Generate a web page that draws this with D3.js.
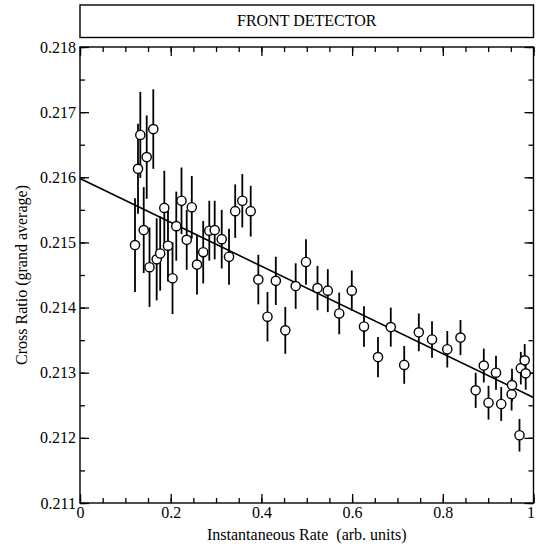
<html>
<head>
	<title>Front detector cross ratio</title>
	<script src="https://d3js.org/d3.v7.min.js"></script>
</head>
<body>
	<style> *{
		margin: 0px;
		padding: 0px;
	}
	text { font-family: "Liberation Serif", "Times New Roman", serif; fill: #000; }
	</style>

	<svg id="SVGcanvas" width="536" height="546" xmlns="http://www.w3.org/2000/svg"></svg>

	<script>
	// data
	var rateValues = [0.1213, 0.1279, 0.1330, 0.1405, 0.1471, 0.1533, 0.1616, 0.1691, 0.1768, 0.1859,
		0.1940, 0.2040, 0.2123, 0.2238, 0.2353, 0.2465, 0.2580, 0.2717, 0.2851, 0.2970,
		0.3125, 0.3286, 0.3422, 0.3579, 0.3764, 0.3932, 0.4134, 0.4318, 0.4527, 0.4756,
		0.4983, 0.5237, 0.5464, 0.5716, 0.5993, 0.6262, 0.6571, 0.6853, 0.7149, 0.7471,
		0.7762, 0.8099, 0.8390, 0.8725, 0.8904, 0.9008, 0.9173, 0.9288, 0.9517, 0.9526,
		0.9691, 0.9720, 0.9806, 0.9828];
	var ratioValues = [0.21496, 0.21613, 0.21665, 0.21519, 0.21631, 0.21462, 0.21674, 0.21474, 0.21483, 0.21553,
		0.21495, 0.21445, 0.21525, 0.21564, 0.21504, 0.21554, 0.21466, 0.21485, 0.21518, 0.21519,
		0.21505, 0.21478, 0.21548, 0.21564, 0.21548, 0.21443, 0.21386, 0.21441, 0.21365, 0.21433,
		0.21470, 0.21430, 0.21426, 0.21391, 0.21426, 0.21371, 0.21324, 0.21370, 0.21312, 0.21362,
		0.21351, 0.21336, 0.21354, 0.21273, 0.21311, 0.21254, 0.21300, 0.21252, 0.21267, 0.21281,
		0.21204, 0.21307, 0.21319, 0.21299];
	var ratioErrors = [0.00072, 0.00069, 0.00066, 0.00066, 0.00064, 0.00061, 0.00061, 0.00063, 0.00057, 0.00057,
		0.00055, 0.00055, 0.00053, 0.00051, 0.00046, 0.00048, 0.00046, 0.00048, 0.00046, 0.00045,
		0.00045, 0.00043, 0.00041, 0.00041, 0.00039, 0.00038, 0.00038, 0.00037, 0.00036, 0.00035,
		0.00035, 0.00034, 0.00033, 0.00032, 0.00031, 0.00031, 0.00031, 0.00030, 0.00029, 0.00029,
		0.00028, 0.00028, 0.00027, 0.00027, 0.00026, 0.00026, 0.00026, 0.00026, 0.00025, 0.00025,
		0.00025, 0.00025, 0.00025, 0.00025];
	// straight line fit, end points
	var fitRate = [0, 1];
	var fitRatio = [0.21598, 0.21262];

	var xTicks = [0, 0.2, 0.4, 0.6, 0.8, 1];
	var yTicks = [0.211, 0.212, 0.213, 0.214, 0.215, 0.216, 0.217, 0.218];
	var titleText = "FRONT DETECTOR";
	var xTitle = "Instantaneous Rate  (arb. units)";
	var yTitle = "Cross Ratio (grand average)";

	var plotLeft = 80, plotRight = 533.5, plotTop = 47, plotBottom = 503;
	var svg = d3.select( "#SVGcanvas" );

	var x = d3.scaleLinear().domain( [0, 1] ).range( [plotLeft, plotRight] );
	var y = d3.scaleLinear().domain( [0.211, 0.218] ).range( [plotBottom, plotTop] );

	// minor ticks every quarter of a major step
	var xMinor = d3.range( 0, 21 ).map( function ( i ) { return i * 0.05; } );
	var yMinor = d3.range( 0, 15 ).map( function ( i ) { return 0.211 + i * 0.0005; } );

	function drawAxis( axis, tx, ty ) {
		var g = svg.append( "g" ).attr( "transform", "translate(" + tx + "," + ty + ")" ).call( axis );
		g.select( ".domain" ).remove();
		g.selectAll( "line" ).attr( "stroke", "#000" ).attr( "stroke-width", 1.3 );
		g.selectAll( "text" ).attr( "font-size", 16 ).attr( "font-family", "Liberation Serif" ).attr( "fill", "#000" );
		return g;
	}

	drawAxis( d3.axisBottom( x ).tickValues( xMinor ).tickSize( -5 ).tickFormat( "" ), 0, plotBottom );
	var xAxisG = drawAxis( d3.axisBottom( x ).tickValues( xTicks ).tickSize( -9 ).tickPadding( 4 ).tickFormat( d3.format( "" ) ), 0, plotBottom );
	// keep the "1" at the right edge inside the picture
	xAxisG.selectAll( "text" ).filter( function ( d ) { return d === 1; } ).attr( "dx", -3 );
	drawAxis( d3.axisTop( x ).tickValues( xMinor ).tickSize( -5 ).tickFormat( "" ), 0, plotTop );
	drawAxis( d3.axisTop( x ).tickValues( xTicks ).tickSize( -9 ).tickFormat( "" ), 0, plotTop );
	drawAxis( d3.axisLeft( y ).tickValues( yMinor ).tickSize( -5 ).tickFormat( "" ), plotLeft, 0 );
	drawAxis( d3.axisLeft( y ).tickValues( yTicks ).tickSize( -9 ).tickPadding( 4 ).tickFormat( d3.format( ".3f" ) ), plotLeft, 0 );
	drawAxis( d3.axisRight( y ).tickValues( yMinor ).tickSize( -5 ).tickFormat( "" ), plotRight, 0 );
	drawAxis( d3.axisRight( y ).tickValues( yTicks ).tickSize( -9 ).tickFormat( "" ), plotRight, 0 );

	// plot frame
	svg.append( "rect" )
		.attr( "x", plotLeft ).attr( "y", plotTop )
		.attr( "width", plotRight - plotLeft ).attr( "height", plotBottom - plotTop )
		.attr( "fill", "none" ).attr( "stroke", "#000" ).attr( "stroke-width", 1.4 );

	// title box
	svg.append( "rect" )
		.attr( "x", plotLeft ).attr( "y", 5 )
		.attr( "width", plotRight - plotLeft ).attr( "height", 32.5 )
		.attr( "fill", "none" ).attr( "stroke", "#000" ).attr( "stroke-width", 1.4 );
	svg.append( "text" )
		.attr( "x", ( plotLeft + plotRight ) / 2 ).attr( "y", 26 )
		.attr( "text-anchor", "middle" ).attr( "font-size", 16 )
		.text( titleText );

	// axis titles
	svg.append( "text" )
		.attr( "x", ( plotLeft + plotRight ) / 2 ).attr( "y", 540 )
		.attr( "text-anchor", "middle" ).attr( "font-size", 16 )
		.style( "white-space", "pre" )
		.text( xTitle );
	svg.append( "text" )
		.attr( "transform", "translate(27," + ( ( plotTop + plotBottom ) / 2 ) + ") rotate(-90)" )
		.attr( "text-anchor", "middle" ).attr( "font-size", 16 )
		.text( yTitle );

	// fit line
	svg.append( "line" )
		.attr( "x1", x( fitRate[0] ) ).attr( "y1", y( fitRatio[0] ) )
		.attr( "x2", x( fitRate[1] ) ).attr( "y2", y( fitRatio[1] ) )
		.attr( "stroke", "#000" ).attr( "stroke-width", 1.6 );

	var points = rateValues.map( function ( r, i ) {
		return { rate: r, ratio: ratioValues[i], err: ratioErrors[i] };
	} );

	// error bars
	svg.append( "g" ).selectAll( "line" )
		.data( points ).enter()
		.append( "line" )
		.attr( "x1", function ( d ) { return x( d.rate ); } )
		.attr( "x2", function ( d ) { return x( d.rate ); } )
		.attr( "y1", function ( d ) { return y( d.ratio - d.err ); } )
		.attr( "y2", function ( d ) { return y( d.ratio + d.err ); } )
		.attr( "stroke", "#000" ).attr( "stroke-width", 1.8 );

	// markers
	svg.append( "g" ).selectAll( "circle" )
		.data( points ).enter()
		.append( "circle" )
		.attr( "cx", function ( d ) { return x( d.rate ); } )
		.attr( "cy", function ( d ) { return y( d.ratio ); } )
		.attr( "r", 4.6 )
		.attr( "fill", "#fff" ).attr( "stroke", "#000" ).attr( "stroke-width", 1.4 );
	</script>
</body>
</html>
